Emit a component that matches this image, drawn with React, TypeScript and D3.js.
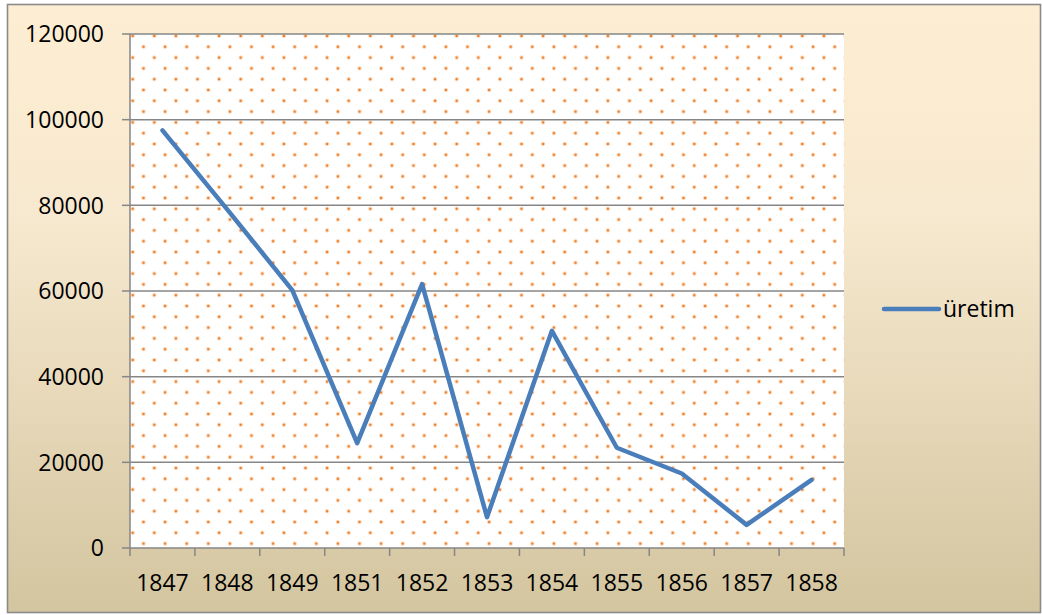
import React from "react";
import * as d3 from "d3";

const years = ["1847", "1848", "1849", "1851", "1852", "1853", "1854", "1855", "1856", "1857", "1858"];
const uretim = [97500, 79000, 60200, 24500, 61600, 7200, 50700, 23400, 17400, 5400, 15900];
const yTicks = [0, 20000, 40000, 60000, 80000, 100000, 120000];
const seriesName = "üretim";

const W = 1042;
const H = 615;
const PL = 130, PR = 844, PT = 34, PB = 548;
const FONT = "'Open Sans', 'Noto Sans', sans-serif";

export default function App() {
  const x = d3.scaleBand<string>().domain(years).range([PL, PR]);
  const y = d3.scaleLinear().domain([0, 120000]).range([PB, PT]);
  const line = d3
    .line<number>()
    .x((_, i) => (x(years[i]) as number) + x.bandwidth() / 2)
    .y((d) => y(d));
  const boundaries = years.map((yr) => x(yr) as number).concat([PR]);
  const grid = "#868686";
  const pts = [
    [0, 0],
    [21.6, 0],
    [0, 21.6],
    [21.6, 21.6],
    [10.8, 10.8],
  ];

  return (
    <svg width={W} height={H} style={{ position: "absolute", left: 0, top: 0 }}>
      <defs>
        <linearGradient id="bg" x1="0" y1="0" x2="0" y2="1">
          <stop offset="0" stopColor="#fdeed3" />
          <stop offset="0.35" stopColor="#f7e9cf" />
          <stop offset="1" stopColor="#d3c59f" />
        </linearGradient>
        <pattern id="dots" patternUnits="userSpaceOnUse" x={132.7} y={36} width={21.6} height={21.6}>
          {pts.map((p, i) => (
            <circle key={"h" + i} cx={p[0]} cy={p[1]} r={2.1} fill="#f79646" opacity={0.35} />
          ))}
          {pts.map((p, i) => (
            <circle key={"c" + i} cx={p[0]} cy={p[1]} r={1.3} fill="#ee7f2a" />
          ))}
        </pattern>
      </defs>
      <rect x={7.5} y={4.5} width={1033} height={608} fill="url(#bg)" stroke="#8a8a8a" strokeWidth={1.6} />
      <rect x={PL} y={PT} width={PR - PL} height={PB - PT} fill="#ffffff" />
      <rect x={PL} y={PT} width={PR - PL} height={PB - PT} fill="url(#dots)" />
      {yTicks.filter((t) => t > 0).map((t) => (
        <line key={"g" + t} x1={PL} x2={PR} y1={y(t)} y2={y(t)} stroke={grid} strokeWidth={1.5} />
      ))}
      <line x1={PL} x2={PL} y1={PT} y2={PB} stroke={grid} strokeWidth={1.5} />
      <line x1={PL} x2={PR} y1={PB} y2={PB} stroke={grid} strokeWidth={1.5} />
      {yTicks.map((t) => (
        <g key={"yt" + t}>
          <line x1={PL - 8} x2={PL} y1={y(t)} y2={y(t)} stroke={grid} strokeWidth={1.5} />
          <text x={104} y={y(t)} dy="0.36em" textAnchor="end" fontFamily={FONT} fontSize={23} fill="#000">
            {t}
          </text>
        </g>
      ))}
      {boundaries.map((b, i) => (
        <line key={"xt" + i} x1={b} x2={b} y1={PB} y2={PB + 8} stroke={grid} strokeWidth={1.5} />
      ))}
      {years.map((yr) => (
        <text
          key={"xl" + yr}
          x={(x(yr) as number) + x.bandwidth() / 2}
          y={591}
          textAnchor="middle"
          fontFamily={FONT}
          fontSize={23}
          fill="#000"
        >
          {yr}
        </text>
      ))}
      <path d={line(uretim) || ""} fill="none" stroke="#4a7ebb" strokeWidth={4.5} strokeLinejoin="round" strokeLinecap="round" />
      <line x1={884} x2={939} y1={309} y2={309} stroke="#4a7ebb" strokeWidth={4.5} strokeLinecap="round" />
      <text x={943} y={317} fontFamily={FONT} fontSize={23} fill="#000">
        {seriesName}
      </text>
    </svg>
  );
}
